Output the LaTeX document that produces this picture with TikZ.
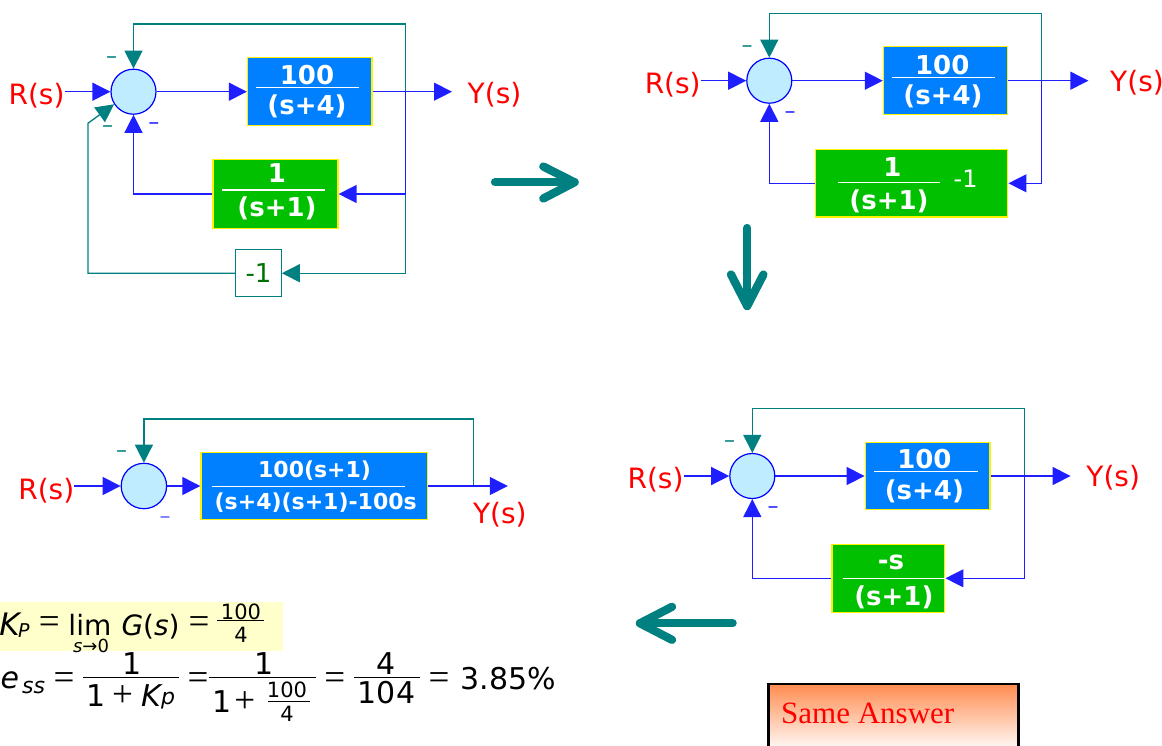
\documentclass[tikz,border=0pt]{standalone}
\usepackage{fontspec}
\setmainfont{DejaVu Sans}
\newfontfamily\serifrm{Liberation Serif}
\usetikzlibrary{arrows.meta}
\definecolor{sigblue}{RGB}{30,30,255}
\definecolor{tealc}{RGB}{0,128,128}
\definecolor{sumfill}{RGB}{192,236,255}
\definecolor{gblue}{RGB}{0,128,255}
\definecolor{hgreen}{RGB}{0,192,0}
\definecolor{dgreen}{RGB}{0,112,0}
\definecolor{hl}{RGB}{255,255,204}
\definecolor{orng}{RGB}{255,140,80}
\tikzset{
  sumnode/.style={circle, draw=blue, fill=sumfill, line width=1.2pt, minimum size=45pt, inner sep=0pt},
  gblk/.style={rectangle, fill=gblue, draw=yellow, line width=1.2pt, inner sep=0pt},
  hblk/.style={rectangle, fill=hgreen, draw=yellow, line width=1.2pt, inner sep=0pt},
  sig/.style={draw=sigblue, line width=1.3pt, -{Triangle[length=18pt,width=18pt]}},
  tsig/.style={draw=tealc, line width=1.3pt, -{Triangle[length=18pt,width=18pt]}},
  lbl/.style={text=red, font=\fontsize{28}{30}\selectfont, inner sep=0pt},
  wb/.style={text=white, font=\bfseries\fontsize{26}{28}\selectfont, inner sep=0pt},
  wbs/.style={text=white, font=\bfseries\fontsize{22}{24}\selectfont, inner sep=0pt},
  fbar/.style={draw=white, line width=1.2pt},
  mns/.style={font=\fontsize{22}{24}\selectfont, inner sep=0pt, anchor=base},
  bigarr/.style={draw=tealc, line width=8.3pt, line cap=round, line join=round},
  eqa/.style={inner sep=0pt, text=black, font=\fontsize{28}{30}\selectfont},
  eqb/.style={inner sep=0pt, text=black, font=\fontsize{30}{32}\selectfont},
  eqs/.style={inner sep=0pt, text=black, font=\fontsize{21}{23}\selectfont},
  eqt/.style={inner sep=0pt, text=black, font=\fontsize{18}{20}\selectfont},
  eqop/.style={inner sep=0pt, text=black, font=\serifrm\fontsize{37}{39}\selectfont},
  ebar/.style={draw=black, line width=1.3pt},
}
\begin{document}
\begin{tikzpicture}[x=1pt,y=-1pt]
\useasboundingbox (0,0) rectangle (1162,745);

% ================= Diagram 1 (top left) =================
\node[lbl] (R1) at (36.5,96) {R(s)};
\node[sumnode] (S1) at (133.5,91.7) {};
\node[gblk, minimum width=124.4pt, minimum height=68.3pt] (B1) at (309.7,91.7) {};
\node[wb] (B1n) at (307,75) {100};
\draw[fbar] (256,87.7) -- (359,87.7);
\node[wb] (B1d) at (307,106.7) {(s+4)};
\node[hblk, minimum width=125pt, minimum height=68.3pt] (H1) at (275.5,194) {};
\node[wb] (H1n) at (277,173.3) {1};
\draw[fbar] (222,190) -- (325,190);
\node[wb] (H1d) at (277,208.3) {(s+1)};
\node[draw=tealc, fill=white, line width=1pt, minimum width=45.7pt, minimum height=46.5pt, inner sep=0pt, text=dgreen, font=\fontsize{26}{28}\selectfont] (M1) at (258.5,273.2) {-1};
\coordinate (P1) at (405.7,91.7);
\coordinate (T1) at (405.7,24);
\coordinate (L1) at (87.9,123.3);
\coordinate (Y1t) at (452,91.7);
\node[lbl] (Y1) at (494.5,95) {Y(s)};
\draw[tsig] (P1) -- (T1) -| (S1.north);
\draw[tsig] (P1) |- (M1.east);
\draw[tsig] (M1.west) -| (L1) -- (S1.213);
\draw[sig] (R1.east |- S1.west) -- (S1.west);
\draw[sig] (S1.east) -- (B1.west);
\draw[sig] (B1.east) -- (Y1t);
\draw[sig] (P1) |- (H1.east);
\draw[sig] (H1.west) -| (S1.south);
\node[mns, text=tealc] (m11) at (111.5,63.3) {–};
\node[mns, text=tealc] (m12) at (107.5,132.7) {–};
\node[mns, text=sigblue] (m13) at (153.8,129.3) {–};

% big arrow right
\coordinate (a1s) at (495,182.3);
\coordinate (a1t) at (574.5,182.3);
\coordinate (a1u) at (543.3,166.5);
\coordinate (a1l) at (543.3,198.5);
\draw[bigarr] (a1s) -- (a1t);
\draw[bigarr] (a1u) -- (a1t) -- (a1l);

% ================= Diagram 2 (top right) =================
\node[lbl] (R2) at (672.7,85) {R(s)};
\node[sumnode] (S2) at (769.3,80.7) {};
\node[gblk, minimum width=124.4pt, minimum height=67.7pt] (B2) at (945.6,80.7) {};
\node[wb] (B2n) at (942.2,65) {100};
\draw[fbar] (892.4,77.3) -- (995,77.3);
\node[wb] (B2d) at (943,96.7) {(s+4)};
\node[hblk, minimum width=192.5pt, minimum height=67.3pt] (H2) at (911.6,183.3) {};
\node[wb] (H2n) at (892.4,166.7) {1};
\draw[fbar] (837.8,182.7) -- (939.7,182.7);
\node[wb] (H2d) at (889,201.7) {(s+1)};
\node[text=white, inner sep=0pt, font=\fontsize{24}{26}\selectfont] (H2k) at (965.7,178.3) {-1};
\coordinate (P2) at (1041.7,80.7);
\coordinate (T2) at (1041.7,13.3);
\coordinate (Y2t) at (1088.4,80.7);
\node[lbl] (Y2) at (1137,82.5) {Y(s)};
\draw[tsig] (P2) -- (T2) -| (S2.north);
\draw[sig] (R2.east |- S2.west) -- (S2.west);
\draw[sig] (S2.east) -- (B2.west);
\draw[sig] (B2.east) -- (Y2t);
\draw[sig] (P2) |- (H2.east);
\draw[sig] (H2.west) -| (S2.south);
\node[mns, text=tealc] (m21) at (747.2,52.7) {–};
\node[mns, text=sigblue] (m22) at (790,118.7) {–};

% big arrow down
\coordinate (a2s) at (747.2,228);
\coordinate (a2t) at (747.2,306);
\coordinate (a2u) at (731,274.5);
\coordinate (a2l) at (763.4,274.5);
\draw[bigarr] (a2s) -- (a2t);
\draw[bigarr] (a2u) -- (a2t) -- (a2l);

% ================= Diagram 3 (bottom right) =================
\node[lbl] (R3) at (655.5,479.3) {R(s)};
\node[sumnode] (S3) at (752.3,476) {};
\node[gblk, minimum width=124.8pt, minimum height=67.7pt] (B3) at (927.6,476) {};
\node[wb] (B3n) at (924.4,459.3) {100};
\draw[fbar] (874,471.7) -- (978,471.7);
\node[wb] (B3d) at (924.4,491.7) {(s+4)};
\node[hblk, minimum width=112.9pt, minimum height=68pt] (H3) at (888.4,578.3) {};
\node[wb] (H3n) at (891,562.7) {-s};
\draw[fbar] (843,578.3) -- (944.8,578.3);
\node[wb] (H3d) at (893.9,597.3) {(s+1)};
\coordinate (P3) at (1024.7,476);
\coordinate (T3) at (1024.7,408.3);
\coordinate (Y3t) at (1070.6,476);
\node[lbl] (Y3) at (1113.2,477.3) {Y(s)};
\draw[tsig] (P3) -- (T3) -| (S3.north);
\draw[sig] (R3.east |- S3.west) -- (S3.west);
\draw[sig] (S3.east) -- (B3.west);
\draw[sig] (B3.east) -- (Y3t);
\draw[sig] (P3) |- (H3.east);
\draw[sig] (H3.west) -| (S3.south);
\node[mns, text=tealc] (m31) at (729.7,447.7) {–};
\node[mns, text=sigblue] (m32) at (773.1,513.3) {–};

% big arrow left
\coordinate (a3s) at (732.6,623.3);
\coordinate (a3t) at (640,623.3);
\coordinate (a3u) at (672,606.8);
\coordinate (a3l) at (672,639.8);
\draw[bigarr] (a3s) -- (a3t);
\draw[bigarr] (a3u) -- (a3t) -- (a3l);

% Same Answer
\node[draw=black, line width=2.5pt, top color=orng, bottom color=white, minimum width=249.8pt, minimum height=68pt, inner sep=0pt] (SAbox) at (893.4,718) {};
\node[inner sep=0pt, anchor=base west, text=red, font=\serifrm\fontsize{31}{33}\selectfont] (SA) at (781,723.3) {Same Answer};

% ================= Diagram 4 (bottom left) =================
\node[lbl] (R4) at (46.3,490.7) {R(s)};
\node[sumnode, minimum size=45.4pt] (S4) at (143.9,486) {};
\node[gblk, minimum width=226.6pt, minimum height=67.7pt] (B4) at (314.2,486) {};
\node[wbs] (B4n) at (314.6,470.7) {100(s+1)};
\draw[fbar] (212.4,486.7) -- (404.9,486.7);
\node[wbs] (B4d) at (315.7,502.7) {(s+4)(s+1)-100s};
\coordinate (P4) at (473.4,486);
\coordinate (T4) at (473.4,419);
\coordinate (Y4t) at (507.8,486);
\node[lbl] (Y4) at (499.8,515) {Y(s)};
\draw[tsig] (P4) -- (T4) -| (S4.north);
\draw[sig] (R4.east |- S4.west) -- (S4.west);
\draw[sig] (S4.east) -- (B4.west);
\draw[sig] (B4.east) -- (Y4t);
\node[mns, text=tealc] (m41) at (121.7,457.7) {–};
\node[mns, text=sigblue!70] (m42) at (165,523.3) {–};

% ================= Equations =================
\fill[hl] (0,601.7) rectangle (283.2,650.7);
\node[inner sep=0pt, anchor=base east, font=\itshape\fontsize{31}{33}\selectfont] (eK) at (20,635) {K};
\node[inner sep=0pt, anchor=base west, font=\itshape\fontsize{19}{21}\selectfont] (eP) at (18,637) {P};
\node[eqop] (eq1) at (49.4,625) {=};
\node[eqa, anchor=base] (elim) at (89.9,635) {lim};
\node[eqt] (elims) at (91,646) {\itshape s\upshape→0};
\node[eqa, anchor=base] (eG) at (150.6,635) {\itshape G\upshape(\itshape s\upshape)};
\node[eqop] (eq2) at (199,625) {=};
\node[eqs] (ef1n) at (241,611.7) {100};
\draw[ebar, line width=1pt] (217.4,620) -- (264,620);
\node[eqs] (ef1d) at (241,635) {4};

\node[eqb, anchor=base west] (ee) at (0.5,688.3) {\itshape e};
\node[inner sep=0pt, anchor=base west, font=\itshape\fontsize{22}{24}\selectfont] (ess) at (22,693.3) {ss};
\node[eqop] (eq3) at (64,681) {=};
\node[eqb] (fa1) at (132,663.3) {1};
\draw[ebar] (83.4,677.3) -- (178.7,677.3);
\node[eqb, anchor=base] (fa2) at (96.5,706.7) {1};
\node[eqop] (fa3) at (122.5,696) {+};
\node[eqb, anchor=base] (fa4) at (151,706.7) {\itshape K};
\node[inner sep=0pt, anchor=base, font=\itshape\fontsize{22}{24}\selectfont] (fa5) at (168,704) {p};
\node[eqop] (eq4) at (198,681) {=};
\node[eqb] (fb1) at (264,663.3) {1};
\draw[ebar] (208.6,677.3) -- (315.7,677.3);
\node[eqb] (fb2) at (221.8,701.7) {1};
\node[eqop] (fb3) at (244.7,701.7) {+};
\node[eqs] (fb4) at (287,690) {100};
\draw[ebar, line width=1pt] (268,701.7) -- (310,701.7);
\node[eqs] (fb5) at (287,714) {4};
\node[eqop] (eq5) at (334.7,681) {=};
\node[eqb] (fc1) at (386.5,664) {4};
\draw[ebar] (354,677.3) -- (420,677.3);
\node[eqb] (fc2) at (386.5,692.5) {104};
\node[eqop] (eq6) at (439,681) {=};
\node[eqb] (res) at (508.4,678.3) {3.85\%};
\end{tikzpicture}
\end{document}
